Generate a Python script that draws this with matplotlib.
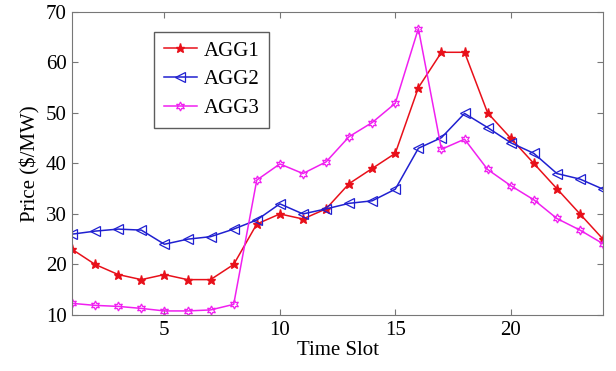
import matplotlib
matplotlib.use('Agg')
import matplotlib.pyplot as plt
import numpy as np

plt.rcParams['font.family'] = ['Liberation Serif', 'DejaVu Serif']

slots = np.arange(1, 25)
agg1 = [23, 20, 18, 17, 18, 17, 17, 20, 28, 30, 29, 31,
        36, 39, 42, 55, 62, 62, 50, 45, 40, 35, 30, 25]
agg2 = [26, 26.6, 27, 26.8, 24, 25, 25.5, 27, 28.8, 32, 30, 31,
        32.1, 32.6, 34.9, 43, 45.1, 49.9, 47.1, 44.1, 42, 38, 36.9, 34.9]
agg3 = [12.3, 11.9, 11.7, 11.3, 10.8, 10.8, 11, 12.1, 36.7, 39.9, 38, 40.3,
        45.3, 48.1, 51.9, 66.7, 42.8, 44.8, 38.8, 35.6, 32.8, 29.1, 26.8, 24.1]

fig = plt.figure(figsize=(6.16, 3.71), dpi=100)
ax = fig.add_axes([0.117, 0.151, 0.862, 0.817])

ax.plot(slots, agg1, color='#e8101a', marker='*', ms=6.5, lw=1.1, label='AGG1')
ax.plot(slots, agg2, color='#2020d0', marker='<', ms=6.5, mfc='none', mew=0.9, lw=1.1, label='AGG2')
ax.plot(slots, agg3, color='#f020f0', marker=(6, 1, 0), ms=6.5, mfc='none', mew=0.9, lw=1.1, label='AGG3')

ax.set_xlim(1, 24)
ax.set_ylim(10, 70)
ax.set_xticks([5, 10, 15, 20])
ax.set_yticks(np.arange(10, 71, 10))
ax.tick_params(direction='in', top=True, right=True, labelsize=15, length=4, color='#777777', pad=4)
for sp in ax.spines.values():
    sp.set_color('#777777')
ax.set_xlabel('Time Slot', fontsize=15, labelpad=1)
ax.set_ylabel('Price ($/MW)', fontsize=15, labelpad=4)

leg = ax.legend(loc='upper left', bbox_to_anchor=(0.155, 0.935), fontsize=15, fancybox=False,
                edgecolor='#333333', handlelength=1.6, handletextpad=0.3, borderpad=0.45,
                labelspacing=0.45, borderaxespad=0)
leg.get_frame().set_linewidth(1.0)

fig.savefig('out.png', dpi=100)
